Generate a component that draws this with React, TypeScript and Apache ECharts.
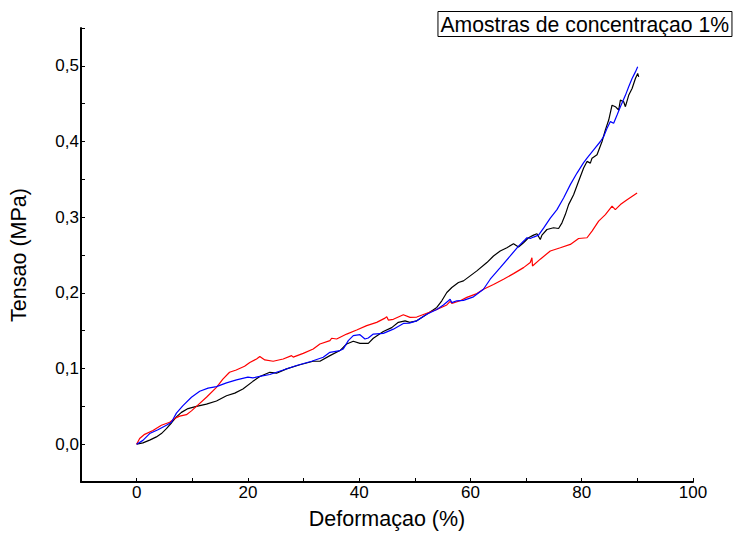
import React, { useEffect, useRef } from "react";
import * as echarts from "echarts";

const blackX = [0, 1.13, 2.34, 3.55, 4.45, 5.35, 6.25, 7.15, 8.05, 9.24, 10.75, 12.55, 14.35, 16.15, 17.64, 19.1, 20.9, 22.14, 23.94, 25.15, 26.95, 29.34, 31.74, 32.94, 34.74, 36.54, 37.75, 38.94, 40.14, 41.64, 42.54, 44.34, 45.85, 47.04, 48.25, 49.1, 50.35, 52.15, 53.95, 54.85, 55.75, 56.65, 57.84, 58.74, 59.95, 61.15, 62.95, 64.14, 65.35, 66.55, 67.74, 68.64, 69.54, 70.44, 71.34, 71.95, 72.55, 72.85, 73.75, 74.94, 75.84, 76.45, 77.05, 77.64, 78.54, 79.44, 80.34, 80.95, 81.55, 81.85, 82.75, 83.65, 84.25, 84.85, 85.45, 86.05, 86.64, 86.95, 87.54, 87.85, 88.44, 89.05, 89.65, 90.06, 90.24];
const blackY = [0, 0.0017, 0.0053, 0.0096, 0.014, 0.0205, 0.028, 0.036, 0.042, 0.047, 0.05, 0.053, 0.057, 0.064, 0.0675, 0.073, 0.083, 0.0895, 0.095, 0.0938, 0.0995, 0.105, 0.1096, 0.1096, 0.117, 0.1237, 0.1324, 0.136, 0.1333, 0.1333, 0.14, 0.149, 0.154, 0.161, 0.163, 0.161, 0.163, 0.1718, 0.1807, 0.1895, 0.2004, 0.207, 0.2136, 0.2158, 0.2224, 0.229, 0.24, 0.2487, 0.2553, 0.2596, 0.2649, 0.2605, 0.2662, 0.2728, 0.2763, 0.278, 0.2705, 0.2763, 0.2837, 0.286, 0.285, 0.2925, 0.3034, 0.3166, 0.3297, 0.3474, 0.3649, 0.3737, 0.3714, 0.378, 0.3824, 0.4, 0.4153, 0.4284, 0.448, 0.446, 0.4416, 0.4547, 0.4526, 0.446, 0.461, 0.47, 0.4833, 0.49, 0.4855];

const blueX = [0, 1.13, 2.34, 3.83, 5.35, 6.25, 7.15, 8.33, 9.85, 11.34, 12.84, 14.35, 16.15, 17.95, 20.0, 20.9, 22.14, 23.94, 26.34, 28.75, 31.45, 33.54, 34.74, 36.54, 37.14, 38.04, 38.94, 40.14, 41.04, 41.64, 42.54, 44.34, 46.14, 47.94, 49.0, 50.35, 52.15, 53.95, 55.14, 56.04, 56.35, 56.65, 57.55, 58.74, 60.54, 62.34, 63.55, 65.35, 67.15, 68.64, 69.85, 70.15, 70.75, 71.34, 72.24, 73.14, 74.35, 75.55, 76.74, 77.95, 79.15, 80.34, 80.95, 82.14, 83.35, 83.95, 84.55, 85.15, 85.74, 86.35, 86.95, 87.85, 88.44, 89.05, 89.65, 90.06];
const blueY = [0, 0.005, 0.014, 0.019, 0.025, 0.029, 0.041, 0.051, 0.062, 0.07, 0.074, 0.076, 0.081, 0.085, 0.0886, 0.0876, 0.0895, 0.0921, 0.098, 0.104, 0.1096, 0.1149, 0.1214, 0.1237, 0.1258, 0.1368, 0.1434, 0.1447, 0.139, 0.1403, 0.1455, 0.1464, 0.152, 0.1596, 0.16, 0.163, 0.1718, 0.178, 0.184, 0.1895, 0.1916, 0.187, 0.1895, 0.19, 0.1947, 0.2047, 0.218, 0.2333, 0.2487, 0.2618, 0.2705, 0.2728, 0.2718, 0.2737, 0.2763, 0.2855, 0.2987, 0.31, 0.3254, 0.343, 0.3583, 0.372, 0.378, 0.389, 0.4, 0.4066, 0.4175, 0.4263, 0.424, 0.435, 0.446, 0.461, 0.4724, 0.4833, 0.492, 0.4987];

const redX = [0, 0.54, 1.44, 2.93, 4.45, 5.94, 6.84, 7.74, 8.95, 9.85, 10.75, 12.55, 14.35, 15.5, 16.7, 17.9, 19.4, 20.34, 21.55, 22.14, 23.04, 24.54, 26.34, 27.85, 28.14, 29.94, 31.74, 32.94, 34.74, 35.05, 35.95, 37.75, 39.55, 41.35, 43.15, 44.64, 44.95, 45.24, 46.14, 47.94, 49.14, 50.35, 52.15, 53.95, 55.75, 56.35, 56.65, 58.15, 59.35, 61.15, 62.34, 64.14, 65.94, 67.74, 69.54, 70.75, 71.05, 71.15, 72.55, 74.35, 76.15, 77.95, 79.44, 80.95, 81.85, 83.04, 84.25, 85.45, 86.04, 86.95, 88.15, 89.95];
const redY = [0, 0.0074, 0.013, 0.018, 0.025, 0.029, 0.034, 0.037, 0.039, 0.044, 0.05, 0.062, 0.075, 0.086, 0.095, 0.098, 0.103, 0.108, 0.1126, 0.1158, 0.1113, 0.1096, 0.1126, 0.117, 0.115, 0.12, 0.1258, 0.1324, 0.1368, 0.14, 0.139, 0.1455, 0.1508, 0.1566, 0.161, 0.1666, 0.1684, 0.164, 0.165, 0.171, 0.1675, 0.168, 0.173, 0.178, 0.184, 0.1886, 0.186, 0.1895, 0.194, 0.199, 0.2047, 0.211, 0.218, 0.2254, 0.2333, 0.24, 0.2464, 0.2355, 0.2445, 0.2553, 0.2596, 0.264, 0.2718, 0.2728, 0.2816, 0.2947, 0.3034, 0.3145, 0.31, 0.3166, 0.323, 0.332];

const titleText = "Amostras de concentraçao 1%";
const xName = "Deformaçao (%)";
const yName = "Tensao (MPa)";

const FONT = "'Liberation Sans', Arial, sans-serif";

function pairs(xs: number[], ys: number[]) {
  return xs.map((x, i) => [x, ys[i]]);
}

export default function App() {
  const ref = useRef<HTMLDivElement>(null);
  useEffect(() => {
    if (!ref.current) return;
    const chart = echarts.init(ref.current, null, { renderer: "svg" });
    const lineSeries = (name: string, color: string, data: number[][]) => ({
      name,
      type: "line",
      data,
      showSymbol: false,
      symbol: "none",
      lineStyle: { color, width: 1.2 },
      itemStyle: { color },
      z: 2,
    });
    chart.setOption({
      animation: false,
      backgroundColor: "#ffffff",
      textStyle: { fontFamily: FONT },
      title: {
        text: titleText,
        right: 2,
        top: 11,
        padding: [3, 3, 2, 3],
        borderColor: "#000",
        borderWidth: 1,
        textStyle: { fontFamily: FONT, fontSize: 21.2, fontWeight: "normal", color: "#000" },
      },
      grid: { left: 81, top: 28, width: 612, height: 457 },
      xAxis: {
        type: "value",
        min: -10,
        max: 100,
        interval: 10,
        name: xName,
        nameLocation: "middle",
        nameGap: 26,
        nameTextStyle: { fontFamily: FONT, fontSize: 21.5, color: "#000" },
        axisLine: { show: true, onZero: false, lineStyle: { color: "#000", width: 2 } },
        axisTick: { show: true, inside: true, length: 4, lineStyle: { color: "#000" } },
        axisLabel: {
          fontFamily: FONT,
          fontSize: 17,
          color: "#000",
          margin: 2,
          formatter: (v: number) => (Math.round(v) % 20 === 0 && v >= 0 ? String(Math.round(v)) : ""),
        },
        splitLine: { show: false },
      },
      yAxis: {
        type: "value",
        min: -0.05,
        max: 0.55,
        interval: 0.05,
        name: yName,
        nameLocation: "middle",
        nameGap: 51,
        nameTextStyle: { fontFamily: FONT, fontSize: 21.5, color: "#000" },
        axisLine: { show: true, onZero: false, lineStyle: { color: "#000", width: 2 } },
        axisTick: { show: true, inside: true, length: 4, lineStyle: { color: "#000" } },
        axisLabel: {
          fontFamily: FONT,
          fontSize: 17,
          color: "#000",
          margin: 2,
          formatter: (v: number) => {
            const t = Math.round(v * 100);
            if (t < 0 || t % 10 !== 0) return "";
            return (t / 100).toFixed(1).replace(".", ",");
          },
        },
        splitLine: { show: false },
      },
      series: [
        lineSeries("black", "#000000", pairs(blackX, blackY)),
        lineSeries("red", "#ff0000", pairs(redX, redY)),
        lineSeries("blue", "#0000ff", pairs(blueX, blueY)),
      ],
    });
    return () => chart.dispose();
  }, []);
  return (
    <div
      ref={ref}
      style={{ position: "fixed", left: 0, top: 0, width: 734, height: 535, background: "#fff" }}
    />
  );
}
